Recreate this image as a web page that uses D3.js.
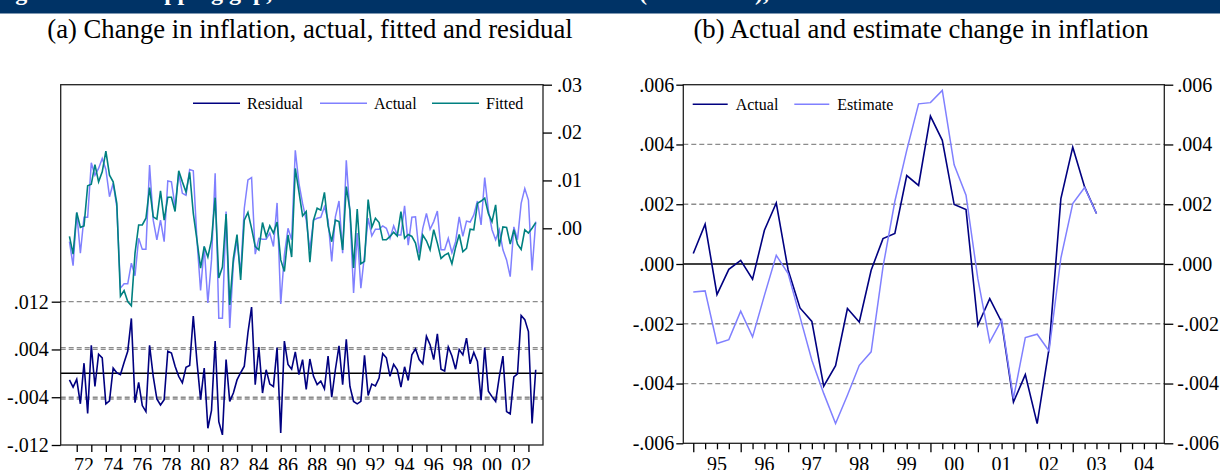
<!DOCTYPE html>
<html><head><meta charset="utf-8">
<script src="https://cdn.jsdelivr.net/npm/d3@7"></script>
<style>
body{margin:0;background:#fff}
svg{display:block;font-family:"Liberation Serif","Times New Roman",serif}
</style>
</head><body>
<svg id="chart" width="1220" height="470"></svg>
<script>
// ---------------- DATA ----------------
// Panel (a): quarterly, 1971Q3 .. 2003Q3
const startA = 1971.5;
const actualA = [-0.0028,-0.0078,0.0033,-0.0052,0.0023,0.0023,0.0137,0.0111,0.0125,0.0146,
 0.0123,0.0066,0.0094,0.0045,-0.0125,-0.0116,-0.0116,-0.0073,-0.0099,-0.0021,
 -0.0044,-0.0044,0.0132,0.0017,-0.0024,0.0017,-0.0028,0.0099,0.0097,0.0045,
 0.0115,0.0073,0.0069,0.0123,0.0120,-0.0024,-0.0130,-0.0038,-0.0156,-0.0066,
 0.0115,-0.0188,-0.0188,0.0035,-0.0208,-0.0073,-0.0024,-0.0094,0.0042,0.0101,
 0.0106,-0.0054,-0.0021,-0.0023,-0.0023,-0.0010,-0.0038,0.0053,-0.0158,-0.0056,
 0.0000,-0.0024,0.0163,0.0094,0.0052,
 0.0017,-0.0045,0.0017,0.0021,0.0023,0.0045,0.0017,-0.0069,0.0024,0.0057,
 -0.0052,0.0142,0.0031,-0.0135,-0.0010,-0.0125,-0.0056,0.0021,-0.0016,-0.0002,
 -0.0002,0.0005,0.0000,-0.0021,0.0005,-0.0014,-0.0014,0.0047,-0.0035,0.0023,
 0.0024,-0.0052,0.0000,0.0031,-0.0002,0.0014,0.0036,-0.0045,-0.0045,-0.0021,
 -0.0051,-0.0028,0.0024,-0.0017,0.0015,0.0013,0.0028,0.0057,0.0007,0.0106,
 0.0038,-0.0003,-0.0024,-0.0003,-0.0045,-0.0066,-0.0101,0.0003,-0.0024,0.0052,
 0.0083,0.0059,-0.0088,0.0014];
const fittedA = [-0.0017,-0.0054,0.0033,0.0002,0.0005,0.0089,0.0092,0.0133,0.0097,0.0118,
 0.0161,0.0111,0.0097,0.0052,-0.0142,-0.0130,-0.0153,-0.0162,-0.0052,0.0007,
 0.0007,0.0021,0.0085,0.0024,0.0019,0.0078,0.0017,0.0065,0.0065,0.0035,
 0.0120,0.0097,0.0076,0.0117,0.0031,-0.0024,-0.0083,-0.0038,-0.0060,-0.0024,
 0.0064,-0.0104,-0.0081,0.0030,-0.0160,-0.0063,-0.0013,-0.0108,0.0017,0.0033,
 0.0000,-0.0038,-0.0045,0.0012,-0.0017,0.0005,-0.0010,0.0013,-0.0066,-0.0090,
 -0.0014,-0.0060,0.0125,0.0076,0.0026,
 0.0035,-0.0071,0.0017,0.0042,0.0038,0.0075,0.0005,-0.0028,0.0017,0.0014,
 -0.0045,0.0087,0.0038,-0.0083,0.0040,-0.0074,-0.0069,0.0060,0.0002,0.0021,
 0.0012,-0.0024,-0.0024,-0.0017,-0.0008,-0.0016,0.0035,-0.0021,-0.0013,-0.0017,
 -0.0031,-0.0067,-0.0014,-0.0026,-0.0045,-0.0003,-0.0031,-0.0063,-0.0056,-0.0052,
 -0.0074,-0.0040,-0.0013,-0.0049,-0.0042,-0.0002,-0.0003,0.0052,0.0057,0.0063,
 0.0031,0.0014,0.0049,-0.0038,0.0003,0.0002,-0.0033,-0.0003,-0.0033,-0.0044,
 -0.0003,-0.0010,0.0000,0.0012];
const residualA = [-0.0011,-0.0023,-0.0010,-0.0051,0.0017,-0.0067,0.0047,-0.0022,0.0032,0.0026,
 -0.0051,-0.0046,0.0009,0.0001,-0.0002,0.0018,0.0037,0.0092,-0.0049,-0.0015,
 -0.0054,-0.0064,0.0047,-0.0005,-0.0043,-0.0053,-0.0044,0.0037,0.0034,0.0012,
 -0.0005,-0.0016,0.0010,0.0013,0.0096,0.0020,-0.0044,0.0009,-0.0092,-0.0062,
 0.0054,-0.0081,-0.0103,0.0023,-0.0047,-0.0033,-0.0011,0.0001,0.0012,0.0068,
 0.0111,-0.0019,0.0044,-0.0033,0.0006,-0.0018,-0.0022,0.0043,-0.0100,0.0054,
 0.0015,0.0007,0.0036,-0.0002,0.0023,
 -0.0027,0.0024,-0.0005,-0.0019,-0.0013,-0.0026,0.0029,-0.0040,0.0006,0.0046,
 -0.0019,0.0057,-0.0022,-0.0047,-0.0051,-0.0047,0.0030,-0.0037,-0.0018,-0.0021,
 -0.0008,0.0033,0.0026,-0.0005,0.0015,0.0006,-0.0023,0.0011,-0.0012,0.0031,
 0.0041,0.0023,0.0016,0.0062,0.0048,0.0023,0.0066,0.0007,0.0004,0.0044,
 0.0029,0.0007,0.0040,0.0031,0.0059,0.0016,0.0035,0.0020,-0.0045,0.0043,
 -0.0030,-0.0039,-0.0047,-0.0006,0.0029,-0.0064,-0.0068,-0.0006,-0.0001,0.0097,
 0.0090,0.0070,-0.0084,0.0006];
const residualBand = 0.0043;            // +/- 1 S.E. band of the residual
const leftTicksA  = [-0.012,-0.004,0.004,0.012];
const rightTicksA = [0.00,0.01,0.02,0.03];
const yearLabelsA = ["72","74","76","78","80","82","84","86","88","90","92","94","96","98","00","02"];

// Panel (b): quarterly, 1995Q1 .. 2003Q3
const startB = 1995.0;
const actualB = [0.00035,0.00133,-0.00102,-0.00018,0.00012,-0.00051,0.00113,0.00204,
 -0.0002,-0.00147,-0.00192,-0.00409,-0.0034,-0.00149,-0.00194,-0.00021,
 0.00085,0.00102,0.00296,0.00263,0.00495,0.00414,0.00199,0.00182,
 -0.00205,-0.00116,-0.00194,-0.00462,-0.0037,-0.00534,-0.00283,0.00219,
 0.00391,0.00258,0.00169];
const estimateB = [-0.00094,-0.0009,-0.00266,-0.00253,-0.00158,-0.00244,-0.00105,0.00029,
 -0.00032,-0.00177,-0.00322,-0.00433,-0.00534,-0.00439,-0.00339,-0.00294,
 -0.0001,0.0021,0.0038,0.00536,0.0054,0.00581,0.00332,0.0023,
 -0.0005,-0.00261,-0.00188,-0.0045,-0.00246,-0.00235,-0.00291,0.0002,
 0.00202,0.00256,0.00169];
const ticksB = [-0.006,-0.004,-0.002,0.000,0.002,0.004,0.006];
const yearLabelsB = ["95","96","97","98","99","00","01","02","03","04"];

// ---------------- STYLE ----------------
const C_NAVY = "#000080", C_LIGHT = "#8080ff", C_TEAL = "#008080";
const GRID = "#8c8c8c";
const FS_TICK = 20, FS_LEG = 16, FS_TITLE = 26.7;
const SERIF = "Liberation Serif, Times New Roman, serif";

const svg = d3.select("#chart");
// EViews style: no leading zero, ASCII hyphen for minus
const fmtDec = n => d => (d < 0 ? "-" : "") + Math.abs(d).toFixed(n).replace(/^0/, "");

// banner (page header, cut off at the top of the picture)
svg.append("rect").attr("x",0).attr("y",0).attr("width",1220).attr("height",13.5).attr("fill","#003366");
svg.append("clipPath").attr("id","bannerClip").append("rect").attr("x",0).attr("y",0).attr("width",1220).attr("height",13.5);
svg.append("text").attr("clip-path","url(#bannerClip)").attr("x",-6).attr("y",0)
  .attr("fill","#fff").attr("font-weight","bold").attr("font-size",24)
  .text("Figure 2: Overlapping gap, inflation and the NAIRU estimates (1971–2003),");

// titles
svg.append("text").attr("x",310).attr("y",38).attr("text-anchor","middle").attr("font-size",FS_TITLE)
  .text("(a) Change in inflation, actual, fitted and residual");
svg.append("text").attr("x",921).attr("y",38).attr("text-anchor","middle").attr("font-size",FS_TITLE)
  .text("(b) Actual and estimate change in inflation");

function styleAxis(g){
  g.attr("font-family", SERIF);
  g.select(".domain").remove();
  g.selectAll(".tick line").attr("stroke","#000").attr("stroke-width",1.3);
  g.selectAll(".tick text").attr("font-size",FS_TICK).attr("font-family",SERIF).attr("fill","#000");
}

// ================= PANEL A =================
const A = {x0:60.7, x1:543, y0:84.7, y1:445};
const xA = d3.scaleLinear().domain([1970.9, 2004.0]).range([A.x0, A.x1]);
const yAL = d3.scaleLinear().domain([-0.012, 0.04834]).range([A.y1, A.y0]);
const yAR = d3.scaleLinear().domain([-0.04527, 0.03]).range([A.y1, A.y0]);
const tA = actualA.map((d,i)=>startA + i/4);

const gA = svg.append("g");
[0.012, 0.004, -0.004, residualBand, -residualBand].forEach(v=>{
  gA.append("line").attr("x1",A.x0).attr("x2",A.x1).attr("y1",yAL(v)).attr("y2",yAL(v))
   .attr("stroke",GRID).attr("stroke-width",1.3).attr("stroke-dasharray","5,3");
});
gA.append("line").attr("x1",A.x0).attr("x2",A.x1).attr("y1",yAL(0)).attr("y2",yAL(0))
  .attr("stroke","#000").attr("stroke-width",1.5);

const lineRes = d3.line().x((d,i)=>xA(tA[i])).y(d=>yAL(d));
const lineAR  = d3.line().x((d,i)=>xA(tA[i])).y(d=>yAR(d));
gA.append("path").datum(residualA).attr("d",lineRes).attr("fill","none").attr("stroke",C_NAVY).attr("stroke-width",1.6);
gA.append("path").datum(actualA).attr("d",lineAR).attr("fill","none").attr("stroke",C_LIGHT).attr("stroke-width",1.5);
gA.append("path").datum(fittedA).attr("d",lineAR).attr("fill","none").attr("stroke",C_TEAL).attr("stroke-width",1.6);

gA.append("rect").attr("x",A.x0).attr("y",A.y0).attr("width",A.x1-A.x0).attr("height",A.y1-A.y0)
  .attr("fill","none").attr("stroke","#222").attr("stroke-width",1.3);

svg.append("g").attr("transform",`translate(${A.x0},0)`)
  .call(d3.axisLeft(yAL).tickValues(leftTicksA).tickSize(9).tickPadding(3).tickFormat(fmtDec(3)))
  .call(styleAxis);
svg.append("g").attr("transform",`translate(${A.x1},0)`)
  .call(d3.axisRight(yAR).tickValues(rightTicksA).tickSize(9).tickPadding(5).tickFormat(fmtDec(2)))
  .call(styleAxis);
const yearsA = d3.range(1972, 2004);
svg.append("g").attr("transform",`translate(0,${A.y1})`)
  .call(d3.axisBottom(xA).tickValues(yearsA).tickSize(7).tickFormat(""))
  .call(styleAxis);
svg.append("g").selectAll("text").data(yearLabelsA).join("text")
  .attr("x",(d,i)=>xA(1972 + 2*i + 0.5)).attr("y",472).attr("text-anchor","middle")
  .attr("font-size",FS_TICK).text(d=>d);

const legA = [{n:"Residual",c:C_NAVY,x:193},{n:"Actual",c:C_LIGHT,x:320},{n:"Fitted",c:C_TEAL,x:432}];
const lgA = svg.append("g").selectAll("g").data(legA).join("g");
lgA.append("line").attr("x1",d=>d.x).attr("x2",d=>d.x+47).attr("y1",103.3).attr("y2",103.3)
  .attr("stroke",d=>d.c).attr("stroke-width",1.6);
lgA.append("text").attr("x",d=>d.x+54).attr("y",109).attr("font-size",FS_LEG).text(d=>d.n);

// ================= PANEL B =================
const B = {x0:683.3, x1:1164.3, y0:84.7, y1:443.3};
const xB = d3.scaleLinear().domain([1994.79, 2004.93]).range([B.x0, B.x1]);
const yB = d3.scaleLinear().domain([-0.006, 0.006]).range([B.y1, B.y0]);
const tB = actualB.map((d,i)=>startB + i/4);
const gB = svg.append("g");
ticksB.filter(v=>v!==0 && Math.abs(v)<0.006).forEach(v=>{
  gB.append("line").attr("x1",B.x0).attr("x2",B.x1).attr("y1",yB(v)).attr("y2",yB(v))
    .attr("stroke",GRID).attr("stroke-width",1.3).attr("stroke-dasharray","5,3");
});
gB.append("line").attr("x1",B.x0).attr("x2",B.x1).attr("y1",yB(0)).attr("y2",yB(0))
  .attr("stroke","#000").attr("stroke-width",1.5);
const lineB = d3.line().x((d,i)=>xB(tB[i])).y(d=>yB(d));
gB.append("path").datum(actualB).attr("d",lineB).attr("fill","none").attr("stroke",C_NAVY).attr("stroke-width",1.6);
gB.append("path").datum(estimateB).attr("d",lineB).attr("fill","none").attr("stroke",C_LIGHT).attr("stroke-width",1.5);
gB.append("rect").attr("x",B.x0).attr("y",B.y0).attr("width",B.x1-B.x0).attr("height",B.y1-B.y0)
  .attr("fill","none").attr("stroke","#222").attr("stroke-width",1.3);

svg.append("g").attr("transform",`translate(${B.x0},0)`)
  .call(d3.axisLeft(yB).tickValues(ticksB).tickSize(7).tickPadding(2).tickFormat(fmtDec(3))).call(styleAxis);
svg.append("g").attr("transform",`translate(${B.x1},0)`)
  .call(d3.axisRight(yB).tickValues(ticksB).tickSize(9).tickPadding(4).tickFormat(fmtDec(3))).call(styleAxis);
const quartersB = d3.range(1995, 2004.9, 0.25).filter(q=>q%1!==0);
svg.append("g").attr("transform",`translate(0,${B.y1})`)
  .call(d3.axisBottom(xB).tickValues(quartersB).tickSize(6).tickFormat("")).call(styleAxis);
svg.append("g").attr("transform",`translate(0,${B.y1})`)
  .call(d3.axisBottom(xB).tickValues(d3.range(1995,2005)).tickSize(9).tickFormat("")).call(styleAxis);
svg.append("g").selectAll("text").data(yearLabelsB).join("text")
  .attr("x",(d,i)=>xB(1995 + i + 0.5)).attr("y",471).attr("text-anchor","middle")
  .attr("font-size",FS_TICK).text(d=>d);

const legB = [{n:"Actual",c:C_NAVY,x:692.7},{n:"Estimate",c:C_LIGHT,x:794.3}];
const lgB = svg.append("g").selectAll("g").data(legB).join("g");
lgB.append("line").attr("x1",d=>d.x).attr("x2",d=>d.x+35).attr("y1",104.3).attr("y2",104.3)
  .attr("stroke",d=>d.c).attr("stroke-width",1.6);
lgB.append("text").attr("x",d=>d.x+43).attr("y",110).attr("font-size",FS_LEG).text(d=>d.n);
</script>
</body></html>
